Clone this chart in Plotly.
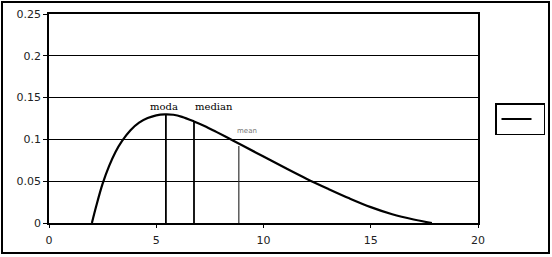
import plotly.graph_objects as go

# curve
curve_x = [2.0, 2.2, 2.5, 2.8, 3.1, 3.4, 3.8, 4.2, 4.6, 5.0, 5.4, 5.8, 6.2, 6.76, 7.3, 7.8,
           8.4, 9.0, 10.0, 11.0, 12.0, 13.0, 14.0, 15.0, 16.0, 17.0, 17.85]
curve_y = [0.0, 0.02, 0.047, 0.068, 0.085, 0.098, 0.111, 0.12, 0.1255, 0.1288, 0.13, 0.1295,
           0.127, 0.1215, 0.1155, 0.109, 0.101, 0.093, 0.0795, 0.066, 0.053, 0.041, 0.0295,
           0.019, 0.0105, 0.0042, 0.0]

# markers for mode, median, mean
stat_names = ["moda", "median", "mean"]
stat_x = [5.45, 6.76, 8.85]
stat_y = [0.13, 0.1215, 0.092]

y_ticks = [0, 0.05, 0.1, 0.15, 0.2, 0.25]
y_tick_text = ["0", "0.05", "0.1", "0.15", "0.2", "0.25"]
x_ticks = [0, 5, 10, 15, 20]

W, H = 552, 257
ml, mr, mt, mb = 49, 74, 14, 34
pw, ph = W - ml - mr, H - mt - mb

fig = go.Figure()

fig.add_trace(go.Scatter(x=curve_x, y=curve_y, mode="lines", name=" ",
                         line=dict(color="black", width=2.2, shape="spline", smoothing=1.0),
                         showlegend=True))

stat_widths = [1.8, 1.8, 1.2]
stat_colors = ["black", "black", "#333333"]
for nm, sx, sy, lw, lc in zip(stat_names, stat_x, stat_y, stat_widths, stat_colors):
    fig.add_trace(go.Scatter(x=[sx, sx], y=[0, sy], mode="lines",
                             line=dict(color=lc, width=lw), showlegend=False,
                             hoverinfo="skip"))

# text labels
fig.add_annotation(x=stat_x[0] - 0.1, y=0.1395, text="moda", showarrow=False,
                   font=dict(family="DejaVu Serif", size=10, color="black"), yanchor="middle")
fig.add_annotation(x=stat_x[1] - 0.05, y=0.1395, text="median", showarrow=False, xanchor="left",
                   font=dict(family="DejaVu Serif", size=10, color="black"), yanchor="middle")
fig.add_annotation(x=stat_x[2] - 0.2, y=0.11, text="mean", showarrow=False, xanchor="left",
                   font=dict(family="DejaVu Sans", size=7, color="#777777"), yanchor="middle")

# outer frame
fig.add_shape(type="rect", xref="paper", yref="paper",
              x0=(2 - ml) / pw, x1=(549 - ml) / pw,
              y0=(H - mb - 253) / ph, y1=(H - mb - 2) / ph,
              line=dict(color="black", width=2), fillcolor="rgba(0,0,0,0)", layer="below")

fig.update_layout(
    width=W, height=H,
    margin=dict(l=ml, r=mr, t=mt, b=mb, pad=0, autoexpand=False),
    paper_bgcolor="white", plot_bgcolor="white",
    font=dict(family="DejaVu Sans", size=11, color="#222222"),
    showlegend=True,
    legend=dict(x=(545 - ml) / pw, y=(H - mb - 119) / ph, xanchor="right", yanchor="middle",
                bordercolor="black", borderwidth=1.5, bgcolor="white",
                font=dict(size=4), itemwidth=30, tracegroupgap=0),
    xaxis=dict(range=[0, 20], tickvals=x_ticks, showgrid=False, zeroline=False,
               showline=True, linecolor="black", linewidth=1.5, mirror=True,
               ticks="outside", ticklen=3, tickcolor="black", fixedrange=True,
               ticklabelstandoff=3),
    yaxis=dict(range=[0, 0.25], tickvals=y_ticks, ticktext=y_tick_text,
               showgrid=True, gridcolor="black", gridwidth=1.3, zeroline=False,
               showline=True, linecolor="black", linewidth=1.5, mirror=True,
               ticks="outside", ticklen=4, tickcolor="black", fixedrange=True),
)

fig.write_html("out.html")
